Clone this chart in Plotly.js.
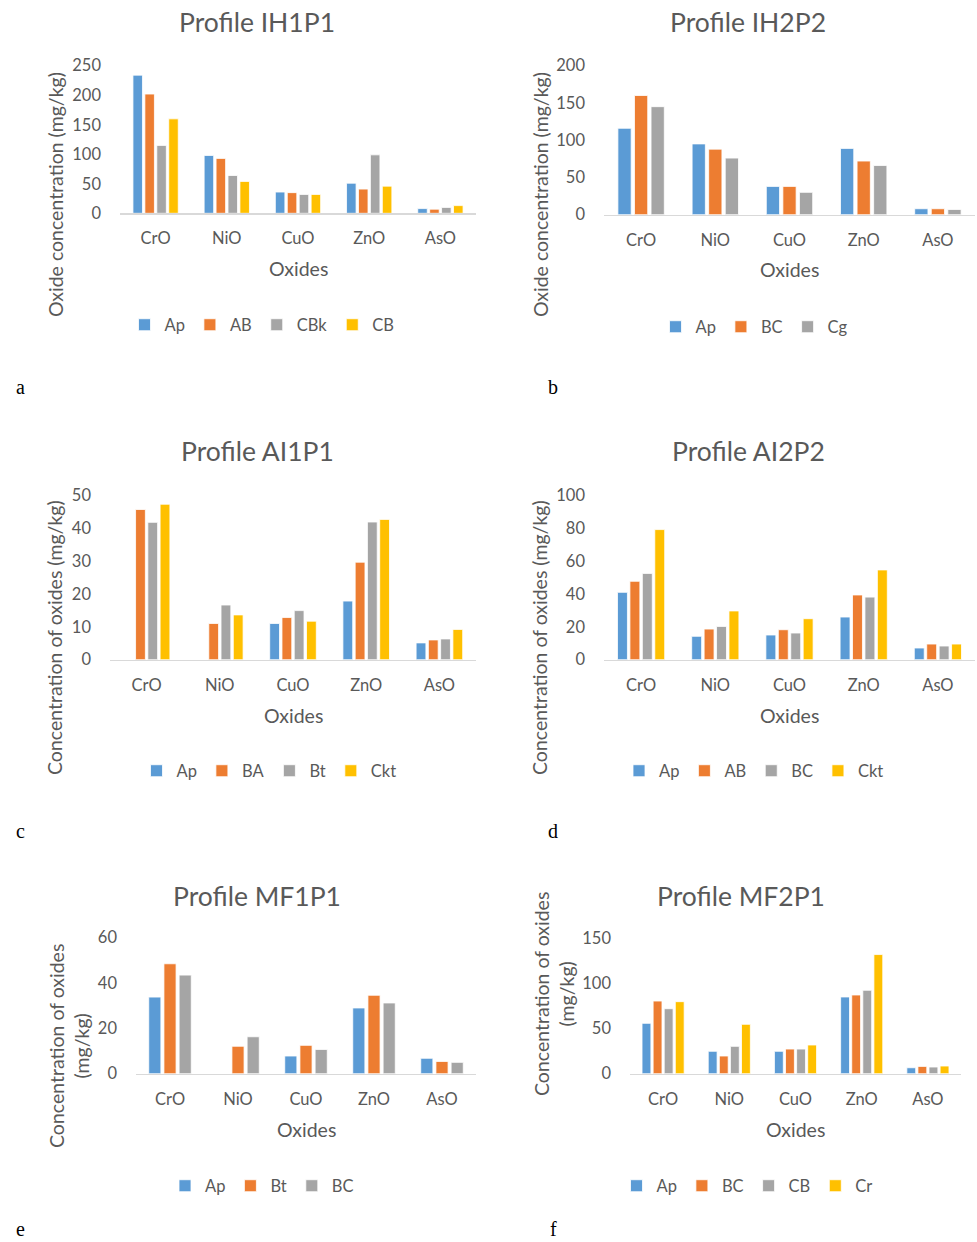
<!DOCTYPE html>
<html>
<head>
<meta charset="utf-8">
<script src="https://cdn.plot.ly/plotly-3.0.1.min.js"></script>
<style>html,body{margin:0;padding:0;background:#fff;}#chart{width:977px;height:1242px;}</style>
</head>
<body>
<div id="chart"></div>
<script>
// ---- Data ----
const oxides = ['CrO', 'NiO', 'CuO', 'ZnO', 'AsO'];

// Panel a: Profile IH1P1
const ih1p1_Ap  = [234, 98, 36, 51, 8];
const ih1p1_AB  = [202, 93, 35, 41, 7];
const ih1p1_CBk = [115, 64, 32, 99, 10];
const ih1p1_CB  = [160, 54, 32, 46, 13];

// Panel b: Profile IH2P2
const ih2p2_Ap = [116, 95, 38, 89, 8];
const ih2p2_BC = [160, 88, 38, 72, 8];
const ih2p2_Cg = [145, 76, 30, 66, 7];

// Panel c: Profile AI1P1
const ai1p1_Ap  = [null, null, 11.0, 17.8, 5.1];
const ai1p1_BA  = [45.6, 11.0, 12.8, 29.6, 6.0];
const ai1p1_Bt  = [41.7, 16.6, 14.9, 41.8, 6.3];
const ai1p1_Ckt = [47.2, 13.6, 11.7, 42.6, 9.2];

// Panel d: Profile AI2P2
const ai2p2_Ap  = [40.9, 14.2, 15.0, 25.9, 7.1];
const ai2p2_AB  = [47.6, 18.6, 18.2, 39.3, 9.5];
const ai2p2_BC  = [52.4, 20.2, 16.2, 38.0, 8.3];
const ai2p2_Ckt = [79.0, 29.6, 24.9, 54.5, 9.5];

// Panel e: Profile MF1P1
const mf1p1_Ap = [33.8, null, 7.8, 29.0, 6.8];
const mf1p1_Bt = [48.5, 12.1, 12.5, 34.6, 5.4];
const mf1p1_BC = [43.5, 16.3, 10.7, 31.2, 5.0];

// Panel f: Profile MF2P1
const mf2p1_Ap = [55.8, 24.8, 24.8, 85.0, 6.6];
const mf2p1_BC = [80.5, 19.6, 27.3, 87.2, 8.1];
const mf2p1_CB = [72.0, 30.3, 27.3, 92.4, 7.4];
const mf2p1_Cr = [79.8, 54.7, 31.8, 132.0, 8.5];

// ---- Styling ----
const W = 977, H = 1242;
const C1 = '#5B9BD5', C2 = '#ED7D31', C3 = '#A5A5A5', C4 = '#FFC000';
const FONT = 'Lato, "Open Sans", sans-serif';
const TXT = '#595959';

function px(x) { return x / W; }
function py(y) { return 1 - y / H; }

const panels = [
  {key: '', legend: 'legend', title: 'Profile IH1P1', tx: 257, ty: 22,
   x: [120, 476], y: [65.7, 213.3], range: [0, 250], dtick: 50,
   ytitle: 'Oxide concentration (mg/kg)', ytx: 55, yty: 195, xtty: 269,
   lx: 262, ly: 325,
   series: [['Ap', ih1p1_Ap, C1], ['AB', ih1p1_AB, C2], ['CBk', ih1p1_CBk, C3], ['CB', ih1p1_CB, C4]]},
  {key: '2', legend: 'legend2', title: 'Profile IH2P2', tx: 748, ty: 22,
   x: [604, 975], y: [65.7, 214.7], range: [0, 200], dtick: 50,
   ytitle: 'Oxide concentration (mg/kg)', ytx: 540, yty: 195, xtty: 270,
   lx: 754, ly: 327,
   series: [['Ap', ih2p2_Ap, C1], ['BC', ih2p2_BC, C2], ['Cg', ih2p2_Cg, C3]]},
  {key: '3', legend: 'legend3', title: 'Profile AI1P1', tx: 257, ty: 451,
   x: [110, 476], y: [495, 659.7], range: [0, 50], dtick: 10,
   ytitle: 'Concentration of oxides (mg/kg)', ytx: 55, yty: 638, xtty: 715,
   lx: 269, ly: 771,
   series: [['Ap', ai1p1_Ap, C1], ['BA', ai1p1_BA, C2], ['Bt', ai1p1_Bt, C3], ['Ckt', ai1p1_Ckt, C4]]},
  {key: '4', legend: 'legend4', title: 'Profile AI2P2', tx: 748, ty: 451,
   x: [604, 975], y: [495, 659.7], range: [0, 100], dtick: 20,
   ytitle: 'Concentration of oxides (mg/kg)', ytx: 540, yty: 638, xtty: 715,
   lx: 754, ly: 771,
   series: [['Ap', ai2p2_Ap, C1], ['AB', ai2p2_AB, C2], ['BC', ai2p2_BC, C3], ['Ckt', ai2p2_Ckt, C4]]},
  {key: '5', legend: 'legend5', title: 'Profile MF1P1', tx: 257, ty: 896,
   x: [136, 476], y: [937.7, 1073.7], range: [0, 60], dtick: 20,
   ytitle: 'Concentration of oxides<br>(mg/kg)', ytx: 69, yty: 1046, xtty: 1129,
   lx: 262, ly: 1186,
   series: [['Ap', mf1p1_Ap, C1], ['Bt', mf1p1_Bt, C2], ['BC', mf1p1_BC, C3]]},
  {key: '6', legend: 'legend6', title: 'Profile MF2P1', tx: 741, ty: 896,
   x: [630, 961], y: [938.3, 1073.7], range: [0, 150], dtick: 50,
   ytitle: 'Concentration of oxides<br>(mg/kg)', ytx: 554, yty: 994, xtty: 1129,
   lx: 747, ly: 1186,
   series: [['Ap', mf2p1_Ap, C1], ['BC', mf2p1_BC, C2], ['CB', mf2p1_CB, C3], ['Cr', mf2p1_Cr, C4]]}
];

const data = [];
const layout = {
  width: W, height: H,
  margin: {l: 0, r: 0, t: 0, b: 0},
  paper_bgcolor: '#fff', plot_bgcolor: '#fff',
  barmode: 'group', bargap: 0.33, bargroupgap: 0.2,
  font: {family: FONT, color: TXT, size: 16},
  showlegend: true,
  annotations: []
};

panels.forEach(p => {
  const xa = 'xaxis' + p.key, ya = 'yaxis' + p.key;
  const xr = 'x' + p.key, yr = 'y' + p.key;
  layout[xa] = {
    domain: [px(p.x[0]), px(p.x[1])], anchor: yr, type: 'category',
    showline: true, linecolor: '#D9D9D9', linewidth: 1.3,
    ticks: '', showgrid: false, zeroline: false, fixedrange: true,
    tickfont: {family: FONT, size: 16.5, color: TXT}, ticklabelstandoff: 10
  };
  layout[ya] = {
    domain: [py(p.y[1]), py(p.y[0])], anchor: xr,
    range: p.range, dtick: p.dtick, tick0: 0,
    showline: false, showgrid: false, zeroline: false, ticks: '',
    tickfont: {family: FONT, size: 16.5, color: TXT}, ticklabelstandoff: 18
  };
  layout[p.legend] = {
    orientation: 'h', x: px(p.lx), y: py(p.ly), xanchor: 'center', yanchor: 'middle',
    font: {family: FONT, size: 16.5, color: TXT}, bgcolor: 'rgba(0,0,0,0)',
    itemwidth: 30, tracegroupgap: 0, itemclick: false, itemdoubleclick: false
  };
  p.series.forEach(s => {
    data.push({
      type: 'bar', name: s[0], x: oxides, y: s[1], xaxis: xr, yaxis: yr,
      legend: p.legend,
      marker: {color: s[2], line: {color: '#ffffff', width: 0.8}},
      hoverinfo: 'name+y'
    });
  });
  layout.annotations.push({
    text: p.title, xref: 'paper', yref: 'paper', x: px(p.tx), y: py(p.ty),
    xanchor: 'center', yanchor: 'middle', showarrow: false,
    font: {family: FONT, size: 26.5, color: TXT}
  });
  layout.annotations.push({
    text: 'Oxides', xref: 'paper', yref: 'paper',
    x: (px(p.x[0]) + px(p.x[1])) / 2, y: py(p.xtty),
    xanchor: 'center', yanchor: 'middle', showarrow: false,
    font: {family: FONT, size: 19.5, color: TXT}
  });
  layout.annotations.push({
    text: p.ytitle, xref: 'paper', yref: 'paper', x: px(p.ytx), y: py(p.yty),
    xanchor: 'center', yanchor: 'middle', showarrow: false, textangle: -90,
    font: {family: FONT, size: 19.5, color: TXT}
  });
});

// Panel letters
const letters = [['a', 20, 387], ['b', 553, 387], ['c', 20, 831], ['d', 553, 831], ['e', 20, 1229], ['f', 553, 1229]];
letters.forEach(l => {
  layout.annotations.push({
    text: l[0], xref: 'paper', yref: 'paper', x: px(l[1]), y: py(l[2]),
    xanchor: 'center', yanchor: 'middle', showarrow: false, borderpad: 0,
    font: {family: '"Liberation Serif", "Times New Roman", serif', size: 20, color: '#000'}
  });
});

Plotly.newPlot('chart', data, layout, {displayModeBar: false, staticPlot: true});
</script>
</body>
</html>
